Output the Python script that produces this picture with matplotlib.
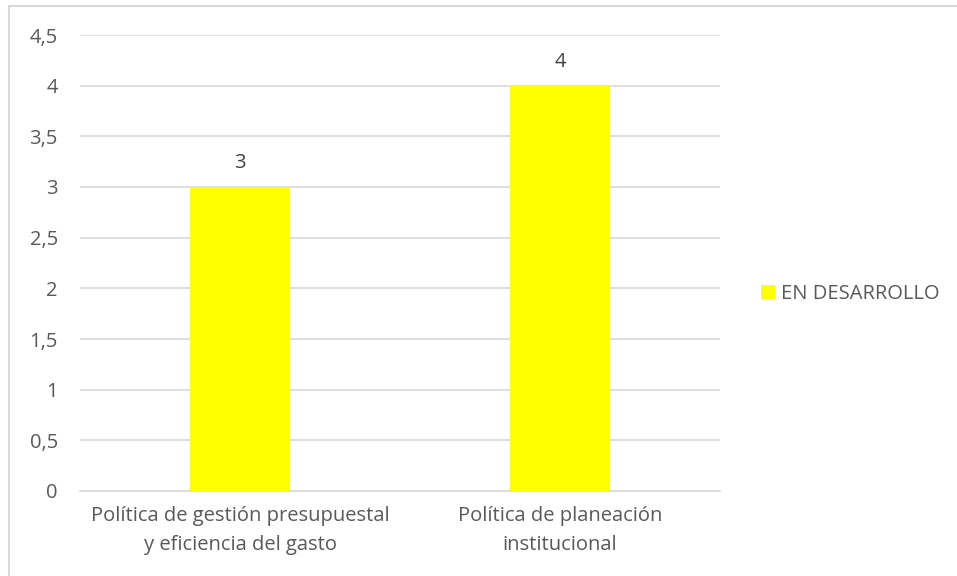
import matplotlib.pyplot as plt
from matplotlib.patches import Rectangle

categorias = ['Política de gestión presupuestal\ny eficiencia del gasto',
              'Política de planeación\ninstitucional']
valores = [3, 4]
serie = 'EN DESARROLLO'
ticks_y = [0, 0.5, 1, 1.5, 2, 2.5, 3, 3.5, 4, 4.5]

gris = '#595959'
fs = 14.5
plt.rcParams['font.family'] = ['Open Sans', 'DejaVu Sans']

fig = plt.figure(figsize=(9.57, 5.76), dpi=100)
W, H = 957, 576

# marco del grafico (solo se ven borde superior e izquierdo)
fig.patches.append(Rectangle((9 / W, -0.1), 1.2, 1 - 5.5 / H + 0.1,
                             transform=fig.transFigure, fill=False,
                             edgecolor='#d9d9d9', linewidth=1.5))

ax = fig.add_axes([80 / W, 85 / H, 640 / W, 456 / H])
x = range(len(categorias))
barras = ax.bar(x, valores, width=0.3125, color='#ffff00', label=serie, zorder=3)

for xi, v in zip(x, valores):
    ax.annotate(str(v), (xi, v), xytext=(0, 17), textcoords='offset points',
                ha='center', va='center', fontsize=fs, color='#404040')

ax.set_xlim(-0.5, 1.5)
ax.set_ylim(0, 4.5)
ax.set_yticks(ticks_y)
ax.set_yticklabels([('%g' % t).replace('.', ',') for t in ticks_y])
ax.set_xticks(list(x))
ax.set_xticklabels(categorias, linespacing=1.6)
ax.grid(axis='y', color='#d9d9d9', linewidth=1.2, zorder=0)
for s in ['top', 'right', 'left']:
    ax.spines[s].set_visible(False)
ax.spines['bottom'].set_color('#d9d9d9')
ax.spines['bottom'].set_linewidth(1.2)
ax.tick_params(axis='both', length=0, labelsize=fs, labelcolor=gris)
ax.tick_params(axis='y', pad=16)
ax.tick_params(axis='x', pad=11)

fig.legend(handles=[barras], labels=[serie], loc='center left',
           bbox_to_anchor=(743 / W, 1 - 294 / H), frameon=False,
           fontsize=fs, labelcolor=gris, handlelength=0.7, handleheight=0.7,
           handletextpad=0.3)

fig.savefig('out.png', dpi=100)
